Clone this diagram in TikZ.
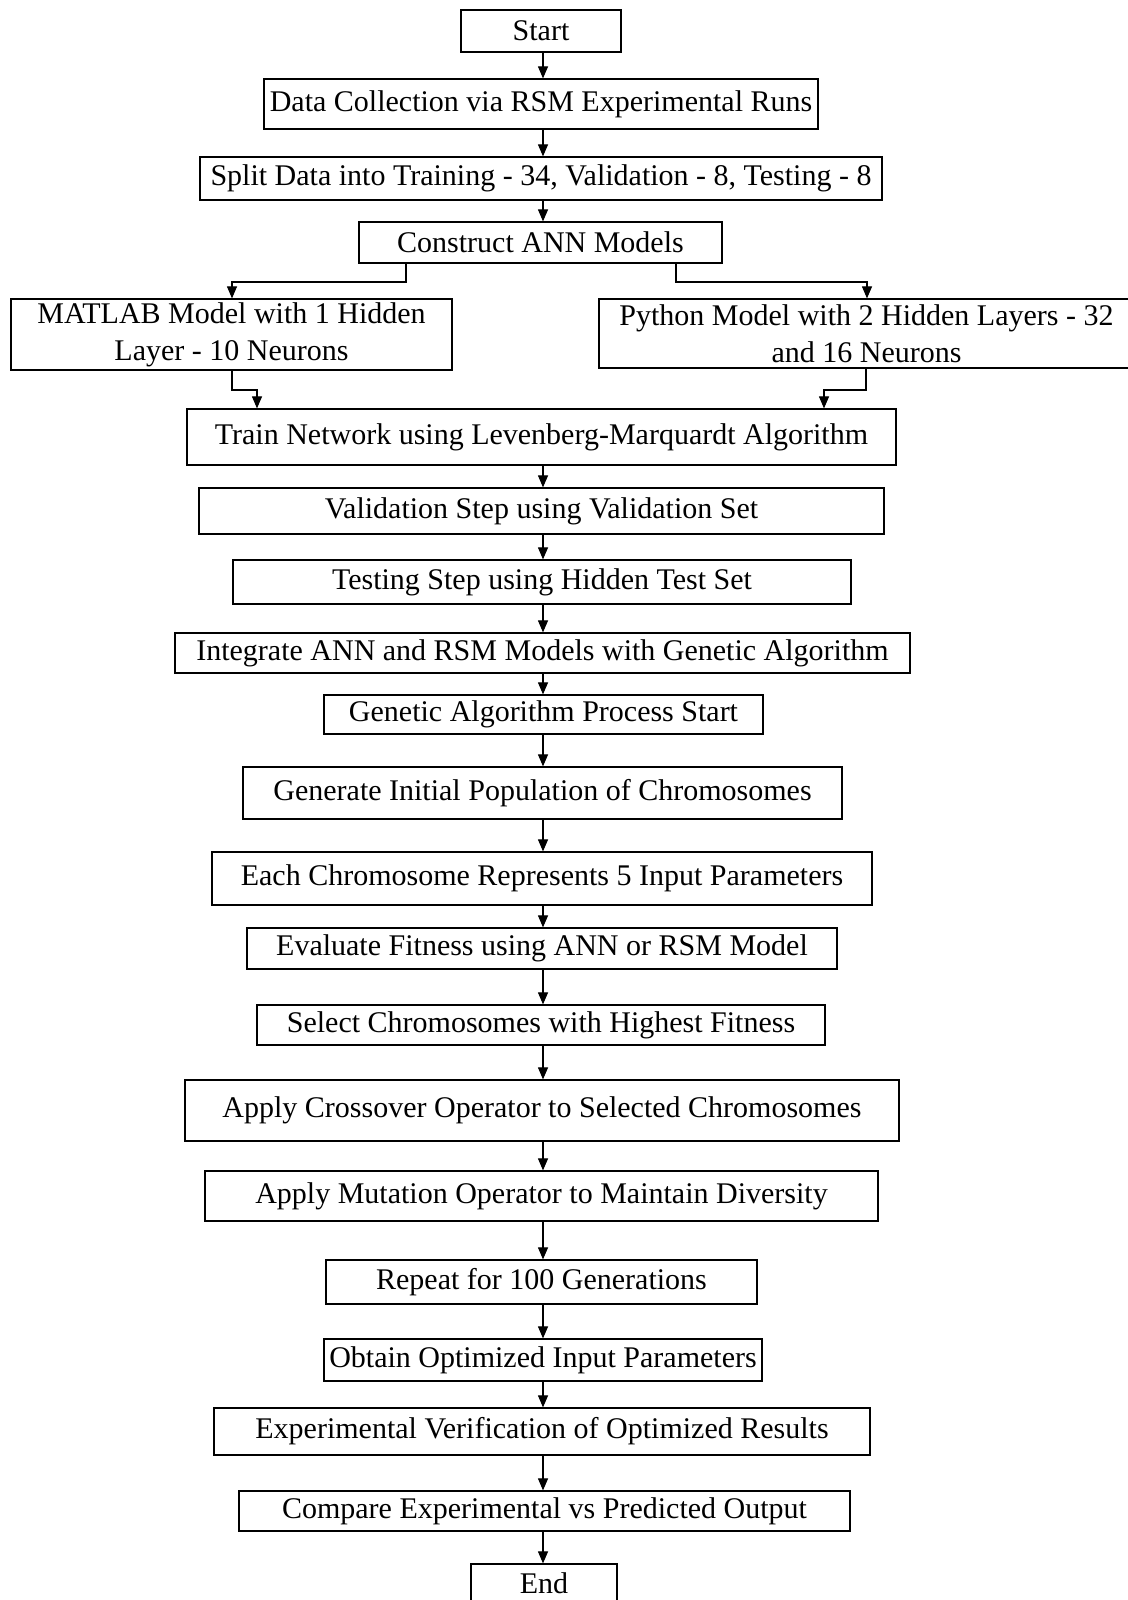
\documentclass[tikz,border=0pt]{standalone}
\usepackage{fontspec}
\setmainfont{Liberation Serif}
\usetikzlibrary{arrows.meta}
\newcommand{\bx}[6]{\node[box,minimum width={(#4-#2)*0.5pt},minimum height={(#5-#3)*0.5pt}] (#1) at ({(#2+#4)/2},{(#3+#5)/2}) {#6};}
\begin{document}
\begin{tikzpicture}[x=0.5pt,y=-0.5pt,
  box/.style={draw=black,line width=0.6pt,rectangle,inner sep=0pt,align=center,
    font=\fontsize{15}{18.4}\selectfont},
  arr/.style={draw=black,line width=0.55pt,-{Triangle[length=6pt,width=5pt]}}]
\clip (0,0) rectangle (1128,1600);
\fill[white] (0,0) rectangle (1128,1600);
\bx{start}{461}{10}{621}{52}{Start}
\bx{data}{264}{79}{818}{129}{Data Collection via RSM Experimental Runs}
\bx{split}{200}{157}{882}{200}{Split Data into Training - 34, Validation - 8, Testing - 8}
\bx{construct}{359}{222}{722}{263}{Construct ANN Models}
\bx{matlab}{11}{299}{452}{370}{MATLAB Model with 1 Hidden\\Layer - 10 Neurons}
\bx{python}{599}{299}{1134}{368}{Python Model with 2 Hidden Layers - 32\\and 16 Neurons}
\bx{train}{187}{409}{896}{465}{Train Network using Levenberg-Marquardt Algorithm}
\bx{valid}{199}{488}{884}{534}{Validation Step using Validation Set}
\bx{test}{233}{560}{851}{604}{Testing Step using Hidden Test Set}
\bx{integ}{175}{633}{910}{673}{Integrate ANN and RSM Models with Genetic Algorithm}
\bx{gastart}{324}{695}{763}{734}{Genetic Algorithm Process Start}
\bx{generate}{243}{767}{842}{819}{Generate Initial Population of Chromosomes}
\bx{each}{212}{852}{872}{905}{Each Chromosome Represents 5 Input Parameters}
\bx{eval}{247}{928}{837}{969}{Evaluate Fitness using ANN or RSM Model}
\bx{select}{257}{1005}{825}{1045}{Select Chromosomes with Highest Fitness}
\bx{cross}{185}{1080}{899}{1141}{Apply Crossover Operator to Selected Chromosomes}
\bx{mut}{205}{1171}{878}{1221}{Apply Mutation Operator to Maintain Diversity}
\bx{repeat}{326}{1260}{757}{1304}{Repeat for 100 Generations}
\bx{obtain}{324}{1339}{762}{1381}{Obtain Optimized Input Parameters}
\bx{exper}{214}{1408}{870}{1455}{Experimental Verification of Optimized Results}
\bx{compare}{239}{1491}{850}{1531}{Compare Experimental vs Predicted Output}
\bx{endn}{471}{1564}{617}{1602}{End}
\coordinate (ax) at (543,0);
\foreach \a/\b in {start/data,data/split,split/construct,train/valid,valid/test,test/integ,
  integ/gastart,gastart/generate,generate/each,each/eval,eval/select,select/cross,
  cross/mut,mut/repeat,repeat/obtain,obtain/exper,exper/compare,compare/endn}
  \draw[arr] (\a.south -| ax) -- (\b.north -| ax);
% branches
\coordinate (bl) at (406,282);
\coordinate (br) at (676,282);
\coordinate (ml) at (232,282);
\coordinate (pr) at (867,282);
\draw[arr] (construct.south -| bl) -- (bl) -- (ml) -- (matlab.north -| ml);
\draw[arr] (construct.south -| br) -- (br) -- (pr) -- (python.north -| pr);
\coordinate (m1) at (232,390);
\coordinate (m2) at (257,390);
\coordinate (p1) at (866,390);
\coordinate (p2) at (824,390);
\draw[arr] (matlab.south -| m1) -- (m1) -- (m2) -- (train.north -| m2);
\draw[arr] (python.south -| p1) -- (p1) -- (p2) -- (train.north -| p2);
\end{tikzpicture}
\end{document}
